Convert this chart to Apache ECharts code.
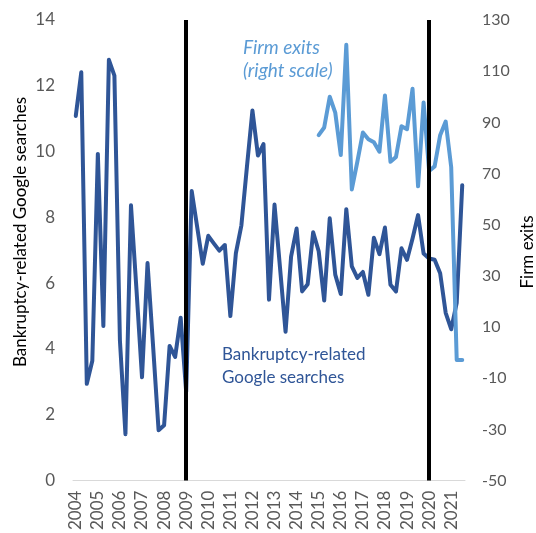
<!DOCTYPE html>
<html>
<head>
<meta charset="utf-8">
<script src="https://cdn.jsdelivr.net/npm/echarts@6/dist/echarts.min.js"></script>
<style>
html,body{margin:0;padding:0;background:#fff;}
#chart{width:536px;height:533px;}
</style>
</head>
<body>
<div id="chart"></div>
<script>
// Years shown on the axis; data are quarterly
var years = [2004,2005,2006,2007,2008,2009,2010,2011,2012,2013,2014,2015,2016,2017,2018,2019,2020,2021];
var quarters = ['Q1','Q2','Q3','Q4'];
var lastQuarterCount = 3; // data end in 2021 Q3

// Bankruptcy-related Google searches (left scale), 2004Q1 - 2021Q3
var searches = [
  11.08, 12.41, 2.94, 3.64,
  9.93, 4.70, 12.79, 12.31,
  4.25, 1.41, 8.37, 5.80,
  3.14, 6.61, 4.10, 1.53,
  1.68, 4.09, 3.76, 4.95,
  2.70, 8.80, 7.70, 6.59,
  7.44, 7.21, 6.99, 7.16,
  5.00, 6.91, 7.76, 9.53,
  11.25, 9.88, 10.23, 5.50,
  8.39, 6.46, 4.52, 6.81,
  7.66, 5.75, 5.97, 7.55,
  6.97, 5.47, 7.97, 6.26,
  5.67, 8.25, 6.51, 6.16,
  6.34, 5.65, 7.38, 6.88,
  7.69, 5.95, 5.75, 7.06,
  6.71, 7.36, 8.07, 6.90,
  6.75, 6.71, 6.30, 5.10,
  4.60, 5.40, 8.98
];

// Firm exits (right scale), 2015Q1 - 2021Q3
var exitsStart = '2015 Q1';
var firmExits = [
  85.0, 88.0, 100.0, 93.8,
  77.2, 120.3, 63.8, 74.6,
  86.0, 83.4, 82.2, 78.5,
  100.5, 74.6, 76.5, 88.5,
  87.3, 103.1, 65.0, 97.8,
  71.0, 72.8, 85.0, 90.3,
  72.5, -2.9, -2.9
];

// Vertical marker lines
var markers = ['2009 Q1', '2020 Q1'];

// Build categories
var categories = [];
years.forEach(function (y, yi) {
  var n = (yi === years.length - 1) ? lastQuarterCount : 4;
  for (var q = 0; q < n; q++) categories.push(y + ' ' + quarters[q]);
});
var startIdx = categories.indexOf(exitsStart);
var exitsData = categories.map(function (c, i) {
  var k = i - startIdx;
  return (k >= 0 && k < firmExits.length) ? firmExits[k] : null;
});

var FONT = 'Lato, "Open Sans", sans-serif';
var DARK = '#2f5597';
var LIGHT = '#5b9bd5';

var chart = echarts.init(document.getElementById('chart'), null, {renderer: 'canvas'});
chart.setOption({
  animation: false,
  backgroundColor: '#ffffff',
  grid: {left: 73, right: 71, top: 20, bottom: 49, containLabel: false},
  xAxis: {
    type: 'category',
    data: categories,
    boundaryGap: true,
    axisLine: {show: true, lineStyle: {color: '#d9d9d9', width: 1}},
    axisTick: {show: false},
    axisLabel: {
      interval: 3,
      rotate: 90,
      margin: 10,
      color: '#595959',
      fontFamily: FONT,
      fontSize: 17,
      formatter: function (v) { return v.split(' ')[0]; }
    },
    splitLine: {show: false}
  },
  yAxis: [
    {
      type: 'value', min: 0, max: 14, interval: 2,
      axisLine: {show: false}, axisTick: {show: false}, splitLine: {show: false},
      axisLabel: {color: '#595959', fontFamily: FONT, fontSize: 17, margin: 18}
    },
    {
      type: 'value', min: -50, max: 130, interval: 20, position: 'right',
      axisLine: {show: false}, axisTick: {show: false}, splitLine: {show: false},
      axisLabel: {color: '#595959', fontFamily: FONT, fontSize: 16, margin: 17}
    }
  ],
  series: [
    {
      name: 'Bankruptcy-related Google searches',
      type: 'line', yAxisIndex: 0, data: searches,
      symbol: 'none', smooth: false,
      lineStyle: {color: DARK, width: 4, join: 'round', cap: 'round'},
      itemStyle: {color: DARK}, z: 2
    },
    {
      name: 'Firm exits',
      type: 'line', yAxisIndex: 1, data: exitsData,
      symbol: 'none', smooth: false,
      lineStyle: {color: LIGHT, width: 4, join: 'round', cap: 'round'},
      itemStyle: {color: LIGHT}, z: 3
    },
    {
      name: 'markers',
      type: 'line', yAxisIndex: 0, data: [],
      z: 10,
      markLine: {
        silent: true,
        symbol: ['none', 'none'],
        label: {show: false},
        lineStyle: {color: '#000000', width: 4, type: 'solid'},
        data: markers.map(function (m) { return {xAxis: m}; }),
        z: 10
      }
    }
  ],
  graphic: [
    {
      type: 'text', x: 21, y: 232, rotation: Math.PI / 2,
      style: {text: 'Bankruptcy-related Google searches', align: 'center', verticalAlign: 'middle',
              fill: '#000000', font: '17px ' + FONT}
    },
    {
      type: 'text', x: 528, y: 252, rotation: Math.PI / 2,
      style: {text: 'Firm exits', align: 'center', verticalAlign: 'middle',
              fill: '#000000', font: '17px ' + FONT}
    },
    {
      type: 'text', x: 243, y: 48,
      style: {text: 'Firm exits', align: 'left', verticalAlign: 'middle',
              fill: LIGHT, font: 'italic 19px ' + FONT}
    },
    {
      type: 'text', x: 243, y: 71,
      style: {text: '(right scale)', align: 'left', verticalAlign: 'middle',
              fill: LIGHT, font: 'italic 19px ' + FONT}
    },
    {
      type: 'text', x: 222, y: 355,
      style: {text: 'Bankruptcy-related', align: 'left', verticalAlign: 'middle',
              fill: DARK, font: '17px ' + FONT}
    },
    {
      type: 'text', x: 222, y: 378,
      style: {text: 'Google searches', align: 'left', verticalAlign: 'middle',
              fill: DARK, font: '17px ' + FONT}
    }
  ]
});
</script>
</body>
</html>
